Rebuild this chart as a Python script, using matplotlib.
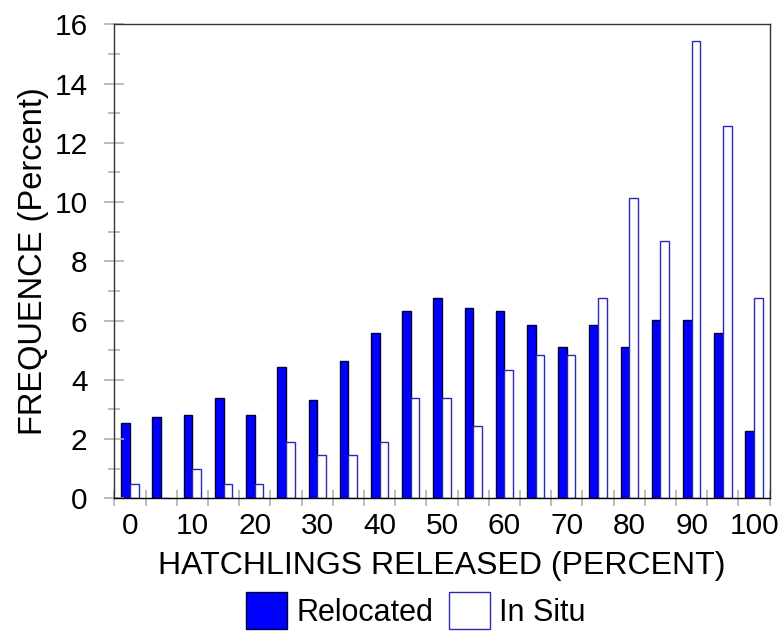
import numpy as np
import matplotlib
matplotlib.use("Agg")
import matplotlib.pyplot as plt
from matplotlib.ticker import FixedLocator, MultipleLocator

plt.rcParams['font.family'] = ['Liberation Sans', 'DejaVu Sans']

# hatchlings released classes (percent), 5 % steps
classes = [0, 5, 10, 15, 20, 25, 30, 35, 40, 45, 50,
           55, 60, 65, 70, 75, 80, 85, 90, 95, 100]
relocated = [2.55, 2.73, 2.82, 3.40, 2.82, 4.42, 3.31, 4.64, 5.58, 6.32, 6.77,
             6.41, 6.32, 5.84, 5.09, 5.84, 5.09, 6.02, 6.02, 5.58, 2.27]
in_situ = [0.49, 0.0, 0.98, 0.49, 0.49, 1.91, 1.46, 1.46, 1.91, 3.38, 3.38,
           2.43, 4.33, 4.82, 4.82, 6.75, 10.13, 8.69, 15.43, 12.56, 6.75]
tick_labels = ['0', '10', '20', '30', '40', '50', '60', '70', '80', '90', '100']

fig = plt.figure(figsize=(7.83, 6.32), dpi=100)
ax = fig.add_axes([0.146, 0.2116, 0.837, 0.75])

pos = np.arange(len(classes))
w = 0.277
ax.bar(pos - w, relocated, width=w, align='edge', color='#0000ff',
       edgecolor='#000033', linewidth=1.0, label='Relocated')
ax.bar(pos, in_situ, width=w, align='edge', color='white',
       edgecolor='#2a2ab0', linewidth=1.0, label='In Situ')

ax.set_xlim(-0.5, len(classes) - 0.5)
ax.set_ylim(0, 16)

# x: labels under every other class, gray ticks on class boundaries
ax.xaxis.set_major_locator(FixedLocator(pos[::2]))
ax.set_xticklabels(tick_labels)
ax.xaxis.set_minor_locator(FixedLocator(np.arange(-0.5, len(classes), 1.0)))
ax.tick_params(axis='x', which='major', length=0, pad=10, labelsize=21.5)
ax.tick_params(axis='x', which='minor', direction='inout', length=11,
               width=1.2, color='#b0b0b0')

ax.yaxis.set_major_locator(MultipleLocator(2))
ax.yaxis.set_minor_locator(MultipleLocator(1))
ax.tick_params(axis='y', which='major', direction='inout', length=14.5,
               width=1.2, color='#b0b0b0', pad=12, labelsize=21.5)
ax.tick_params(axis='y', which='minor', direction='inout', length=8,
               width=1.2, color='#b0b0b0')

for s in ax.spines.values():
    s.set_color('#333333')
    s.set_linewidth(1.0)
ax.spines['bottom'].set_color('black')

ax.set_xlabel('HATCHLINGS RELEASED (PERCENT)', fontsize=23, labelpad=8)
ax.set_ylabel('FREQUENCE (Percent)', fontsize=23.5, labelpad=4)

fig.legend(loc='lower center', bbox_to_anchor=(0.531, -0.02), ncol=2,
           frameon=False, fontsize=22, handlelength=1.34, handleheight=1.5,
           handletextpad=0.3, columnspacing=0.5, borderpad=0.0)

fig.savefig('out.png', dpi=100)
